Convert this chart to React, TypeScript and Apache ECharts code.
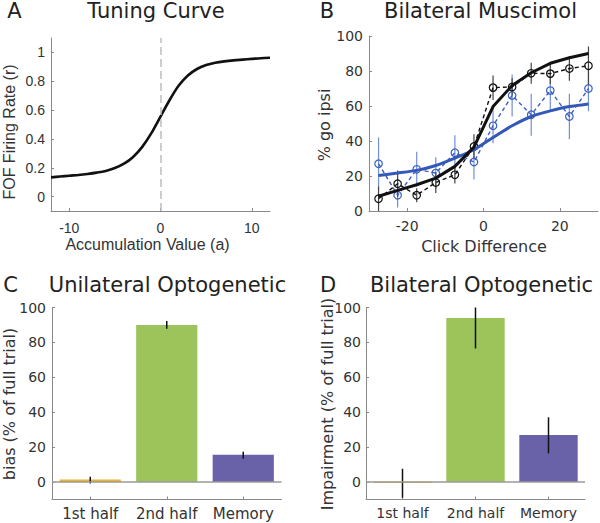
import React, { useEffect, useRef } from "react";
import * as echarts from "echarts";

// Panel A: tuning curve
const tuningX = [-12, -11, -10, -9, -8, -7, -6, -5, -4, -3, -2, -1, 0, 1, 2, 3, 4, 5, 6, 7, 8, 9, 10, 11, 12];
const tuningY = [0.133, 0.139, 0.145, 0.15, 0.157, 0.166, 0.178, 0.198, 0.228, 0.275, 0.345, 0.44, 0.555, 0.67, 0.77, 0.84, 0.885, 0.912, 0.928, 0.938, 0.945, 0.95, 0.955, 0.96, 0.963];

// Panel B: bilateral muscimol
const clickX = [-27.5, -22.5, -17.5, -12.5, -7.5, -2.5, 2.5, 7.5, 12.5, 17.5, 22.5, 27.5];
const ctrlData = [7, 15.6, 9, 16.3, 20.7, 36.9, 70.5, 70.9, 78.7, 78.5, 81.4, 83];
const ctrlErr = [7, 7.6, 4, 6, 5, 7, 7, 5, 6, 6, 7, 11];
const ctrlFit = [8.4, 11.8, 15, 18.8, 25.5, 36.5, 59.7, 71.7, 79, 84.4, 87.6, 90];
const muscData = [27, 9, 23.8, 21.7, 33.3, 28, 48.7, 66, 55, 68.8, 54, 70];
const muscErr = [15, 7, 10, 9, 10, 10, 10, 12, 12, 11, 13, 13];
const muscFit = [20.3, 21.7, 23.2, 26, 30.2, 35, 42, 48.7, 54, 57.2, 59.7, 61.2];

// Panels C and D
const categories = ["1st half", "2nd half", "Memory"];
const barColors = ["#EBB52F", "#9DC35B", "#6A62A8"];
const uniBias = [1.5, 90, 15.7];
const uniLow = [-0.8, 87.8, 13.4];
const uniHigh = [3.1, 92.2, 17.4];
const biImpair = [-0.3, 94, 27];
const biLow = [-9, 76.5, 16.4];
const biHigh = [7.6, 100, 37.1];

const FONT = "DejaVu Sans";
const FONT_A = "Liberation Sans";
const AX = "#8a8a8a";
const TXT = "#333";

function errRender(color: string, width: number) {
  return (params: any, api: any) => {
    const p1 = api.coord([api.value(0), api.value(1)]);
    const p2 = api.coord([api.value(0), api.value(2)]);
    return {
      type: "line",
      shape: { x1: p1[0], y1: p1[1], x2: p2[0], y2: p2[1] },
      style: { stroke: color, lineWidth: width },
    };
  };
}

function valAxis(gridIndex: number, min: number, max: number, ticks: number[], fontSize: number, margin: number, font: string = FONT) {
  return {
    type: "value",
    gridIndex,
    min,
    max,
    axisLine: { show: true, onZero: false, lineStyle: { color: AX, width: 1 } },
    axisTick: { show: true, inside: true, length: 3, customValues: ticks, lineStyle: { color: AX } },
    axisLabel: { customValues: ticks, color: TXT, fontSize, fontFamily: font, margin },
    splitLine: { show: false },
  };
}

function catAxis(gridIndex: number, fontSize: number, margin: number) {
  return {
    type: "category",
    gridIndex,
    data: categories,
    axisLine: { show: true, onZero: false, lineStyle: { color: AX, width: 1 } },
    axisTick: { show: true, inside: true, length: 3, alignWithLabel: true, lineStyle: { color: AX } },
    axisLabel: { color: TXT, fontSize, fontFamily: FONT, margin, interval: 0, hideOverlap: false },
    splitLine: { show: false },
  };
}

function txt(text: string, x: number, y: number, size: number, opts: any = {}) {
  return {
    type: "text",
    x,
    y,
    rotation: opts.rotation || 0,
    style: {
      text,
      fill: opts.fill || "#222",
      fontSize: size,
      fontFamily: opts.font || FONT,
      align: opts.align || "center",
      verticalAlign: "middle",
    },
  };
}

export default function App() {
  const ref = useRef<HTMLDivElement>(null);
  useEffect(() => {
    if (!ref.current) return;
    const chart = echarts.init(ref.current, undefined, { renderer: "svg" });
    const yTicks = [0, 20, 40, 60, 80, 100];
    const option: any = {
      animation: false,
      textStyle: { fontFamily: FONT },
      grid: [
        { left: 51, top: 38, width: 219, height: 173 },
        { left: 369, top: 36, width: 229, height: 175 },
        { left: 52, top: 307.5, width: 229.5, height: 192 },
        { left: 366, top: 307.5, width: 219, height: 192 },
      ],
      xAxis: [
        valAxis(0, -12, 12, [-10, 0, 10], 14, 10, FONT_A),
        valAxis(1, -30, 30, [-20, 0, 20], 14, 8),
        catAxis(2, 15, 7),
        catAxis(3, 14, 6),
      ],
      yAxis: [
        valAxis(0, -0.1, 1.1, [0, 0.2, 0.4, 0.6, 0.8, 1], 14, 6, FONT_A),
        valAxis(1, 0, 100, yTicks, 14, 6),
        valAxis(2, -10, 100, yTicks, 14, 6),
        valAxis(3, -10, 100, yTicks, 14, 5),
      ],
      series: [
        {
          type: "line",
          xAxisIndex: 0,
          yAxisIndex: 0,
          data: tuningX.map((x, i) => [x, tuningY[i]]),
          smooth: 0.3,
          showSymbol: false,
          lineStyle: { color: "#111", width: 2.6 },
          markLine: {
            silent: true,
            symbol: "none",
            label: { show: false },
            lineStyle: { color: "#bdbdbd", type: [8, 4], width: 1.5 },
            data: [{ xAxis: 0 }],
          },
          z: 3,
        },
        {
          type: "custom",
          xAxisIndex: 1,
          yAxisIndex: 1,
          renderItem: errRender("#6f8fd6", 1.2),
          data: clickX.map((x, i) => [x, muscData[i] - muscErr[i], muscData[i] + muscErr[i]]),
          z: 2,
        },
        {
          type: "custom",
          xAxisIndex: 1,
          yAxisIndex: 1,
          renderItem: errRender("#444", 1.2),
          data: clickX.map((x, i) => [x, ctrlData[i] - ctrlErr[i], ctrlData[i] + ctrlErr[i]]),
          z: 2,
        },
        {
          type: "line",
          xAxisIndex: 1,
          yAxisIndex: 1,
          data: clickX.map((x, i) => [x, muscData[i]]),
          symbol: "circle",
          symbolSize: 7.5,
          itemStyle: { color: "rgba(0,0,0,0)", borderColor: "#3a5fc0", borderWidth: 1.2 },
          lineStyle: { color: "#3a5fc0", width: 1.4, type: [4, 3] },
          z: 3,
        },
        {
          type: "line",
          xAxisIndex: 1,
          yAxisIndex: 1,
          data: clickX.map((x, i) => [x, ctrlData[i]]),
          symbol: "circle",
          symbolSize: 7.5,
          itemStyle: { color: "rgba(0,0,0,0)", borderColor: "#111", borderWidth: 1.2 },
          lineStyle: { color: "#111", width: 1.4, type: [4, 3] },
          z: 3,
        },
        {
          type: "line",
          xAxisIndex: 1,
          yAxisIndex: 1,
          data: clickX.map((x, i) => [x, muscFit[i]]),
          showSymbol: false,
          smooth: 0.2,
          lineStyle: { color: "#3458b8", width: 3 },
          z: 4,
        },
        {
          type: "line",
          xAxisIndex: 1,
          yAxisIndex: 1,
          data: clickX.map((x, i) => [x, ctrlFit[i]]),
          showSymbol: false,
          lineStyle: { color: "#111", width: 3 },
          z: 4,
        },
        // Panel C
        {
          type: "line",
          xAxisIndex: 2,
          yAxisIndex: 2,
          data: [],
          markLine: {
            silent: true,
            symbol: "none",
            label: { show: false },
            lineStyle: { color: "#9a9a9a", type: "solid", width: 1.5 },
            data: [{ yAxis: 0 }],
          },
          z: 1,
        },
        {
          type: "bar",
          xAxisIndex: 2,
          yAxisIndex: 2,
          barWidth: "80%",
          data: uniBias.map((v, i) => ({ value: v, itemStyle: { color: barColors[i] } })),
          z: 2,
        },
        {
          type: "custom",
          xAxisIndex: 2,
          yAxisIndex: 2,
          renderItem: errRender("#111", 1.5),
          data: categories.map((c, i) => [i, uniLow[i], uniHigh[i]]),
          z: 3,
        },
        // Panel D
        {
          type: "line",
          xAxisIndex: 3,
          yAxisIndex: 3,
          data: [],
          markLine: {
            silent: true,
            symbol: "none",
            label: { show: false },
            lineStyle: { color: "#9a9a9a", type: "solid", width: 1.5 },
            data: [{ yAxis: 0 }],
          },
          z: 1,
        },
        {
          type: "bar",
          xAxisIndex: 3,
          yAxisIndex: 3,
          barWidth: "80%",
          data: biImpair.map((v, i) => ({
            value: v,
            itemStyle: { color: barColors[i], borderColor: barColors[i], borderWidth: i === 0 ? 1 : 0 },
          })),
          z: 2,
        },
        {
          type: "custom",
          xAxisIndex: 3,
          yAxisIndex: 3,
          renderItem: errRender("#111", 1.5),
          data: categories.map((c, i) => [i, biLow[i], biHigh[i]]),
          z: 3,
        },
      ],
      graphic: [
        txt("A", 14.5, 11, 21),
        txt("Tuning Curve", 156, 11, 21),
        txt("B", 327, 11, 21),
        txt("Bilateral Muscimol", 480.5, 11, 21),
        txt("C", 10.5, 284.5, 21),
        txt("Unilateral Optogenetic", 167.5, 284.5, 21),
        txt("D", 328, 284.5, 21),
        txt("Bilateral Optogenetic", 481.5, 284.5, 21),
        txt("Accumulation Value (a)", 147.5, 244.5, 16, { fill: TXT, font: FONT_A }),
        txt("FOF Firing Rate (r)", 9, 132, 16, { fill: TXT, rotation: Math.PI / 2, font: FONT_A }),
        txt("Click Difference", 484, 246, 16, { fill: TXT }),
        txt("% go ipsi", 324, 125, 16, { fill: TXT, rotation: Math.PI / 2 }),
        txt("bias (% of full trial)", 9, 404, 16, { fill: TXT, rotation: Math.PI / 2 }),
        txt("Impairment (% of full trial)", 327.5, 404, 16, { fill: TXT, rotation: Math.PI / 2 }),
      ],
    };
    chart.setOption(option);
    return () => chart.dispose();
  }, []);
  return (
    <div
      ref={ref}
      style={{ position: "absolute", left: 0, top: 0, width: 600, height: 523, background: "#fff" }}
    />
  );
}
